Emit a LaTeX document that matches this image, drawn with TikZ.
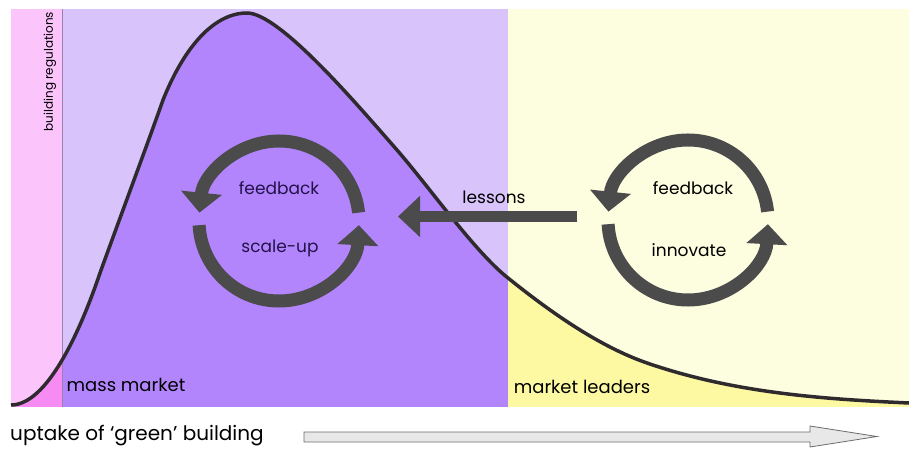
\documentclass[tikz,border=0pt]{standalone}
\usepackage{fontspec}
\setmainfont{Poppins}
\usetikzlibrary{arrows.meta}

\definecolor{pinkbg}{HTML}{FBC4FB}
\definecolor{pinkfill}{HTML}{F78BF4}
\definecolor{lavbg}{HTML}{D8C3FB}
\definecolor{purpfill}{HTML}{B385FC}
\definecolor{yelbg}{HTML}{FDFDE0}
\definecolor{yelfill}{HTML}{FDF9A2}
\definecolor{curvecol}{HTML}{2E2A2E}
\definecolor{ringcol}{HTML}{4B4B4B}
\definecolor{inktext}{HTML}{22124A}
\definecolor{divcol}{HTML}{9A7FAF}

\tikzset{
  ring/.style={draw=ringcol, line width=13pt,
    -{Triangle[width=40pt,length=20pt]}},
  bigarrow/.style={draw=ringcol, line width=11pt,
    -{Triangle[width=40pt,length=22pt]}},
  label/.style={inner sep=0pt, font=\fontsize{18}{21}\selectfont},
  cyclelabel/.style={inner sep=0pt, font=\fontsize{17}{20}\selectfont},
}

% the adoption curve, in picture units (1pt per unit)
\def\uptakecurve{(11,45)
  .. controls (47,45) and (80,118) .. (100,177)
  .. controls (121,235) and (150,313) .. (163,350)
  .. controls (185,405) and (215,437) .. (247,437)
  .. controls (280,437) and (360,342) .. (397,300)
  .. controls (430,262) and (475,198) .. (508,172)
  .. controls (554,135) and (601,103) .. (647,87)
  .. controls (734,57) and (822,51) .. (909,47)}

\begin{document}
\begin{tikzpicture}[x=1pt, y=1pt]
  \useasboundingbox (0,0) rectangle (909,450);

  % background bands
  \fill[pinkbg] (11,43) rectangle (62,441);
  \fill[lavbg]  (62,43) rectangle (508,441);
  \fill[yelbg]  (508,43) rectangle (909,441);

  % shaded area under the curve
  \begin{scope}
    \clip \uptakecurve -- (909,43) -- (11,43) -- cycle;
    \fill[pinkfill] (11,43) rectangle (62,441);
    \fill[purpfill] (62,43) rectangle (508,441);
    \fill[yelfill]  (508,43) rectangle (909,441);
  \end{scope}

  % boundary of the regulation band
  \draw[divcol, line width=0.8pt] (62,43) -- (62,441);

  % the curve itself
  \draw[curvecol, line width=3.5pt] \uptakecurve;

  % band labels
  \node[inner sep=0pt, rotate=90, font=\fontsize{12}{14}\selectfont]
    (regs) at (50,378.5) {building regulations};
  \node[label] (mass) at (126,65) {mass market};
  \node[label] (leaders) at (582,63) {market leaders};

  % mass-market cycle
  \coordinate (cycleA) at (279,229);
  \draw[ring] ([shift={(6:80)}]cycleA) arc[start angle=6, end angle=174, radius=80];
  \draw[ring] ([shift={(183:80)}]cycleA) arc[start angle=183, end angle=357, radius=80];
  \node[cyclelabel, text=inktext] (fbA) at (279,262) {feedback};
  \node[cyclelabel, text=inktext] (scale) at (280,202) {scale-up};

  % market-leader cycle
  \coordinate (cycleB) at (688,230);
  \draw[ring] ([shift={(6:80)}]cycleB) arc[start angle=6, end angle=174, radius=80];
  \draw[ring] ([shift={(183:80)}]cycleB) arc[start angle=183, end angle=357, radius=80];
  \node[cyclelabel] (fbB) at (693,262) {feedback};
  \node[cyclelabel] (innov) at (689,200) {innovate};

  % lessons passed back to the mass market
  \coordinate (lessonsFrom) at (577,233.5);
  \coordinate (lessonsTo) at (398,233.5);
  \draw[bigarrow] (lessonsFrom) -- (lessonsTo);
  \node[cyclelabel] (lessons) at (494,253) {lessons};

  % axis label and direction arrow
  \node[inner sep=0pt, anchor=west, font=\fontsize{20}{24}\selectfont]
    (axis) at (10,14) {uptake of ‘green’ building};
  \draw[draw=gray!85!black, fill=gray!18, line width=0.8pt]
    (304,8) -- (810,8) -- (810,3) -- (877,13.5) -- (810,24) -- (810,18)
    -- (304,18) -- cycle;
\end{tikzpicture}
\end{document}
